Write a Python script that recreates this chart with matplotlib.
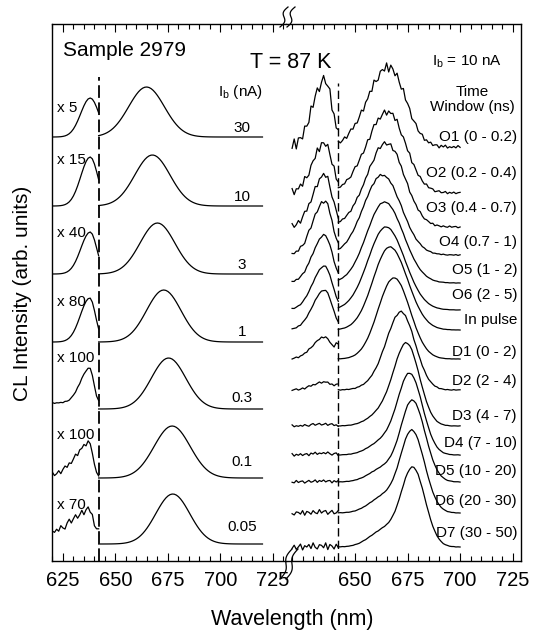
"""
CL spectra of sample 2979 at 87 K: beam-current series (left) and
time-resolved windows at Ib = 10 nA (right), two panels on one broken axis.
"""
import numpy as np
import matplotlib
matplotlib.use("Agg")
import matplotlib.pyplot as plt
from matplotlib.lines import Line2D
from matplotlib.ticker import FixedLocator, MultipleLocator

plt.rcParams["font.family"] = ["Liberation Sans", "DejaVu Sans"]
plt.rcParams["mathtext.fontset"] = "custom"
plt.rcParams["mathtext.rm"] = "Liberation Sans"
plt.rcParams["mathtext.it"] = "Liberation Sans:italic"

# ---- left panel: beam current series (peak parameters)
ib_labels = ["30", "10", "3", "1", "0.3", "0.1", "0.05"]
mult_labels = ["x 5", "x 15", "x 40", "x 80", "x 100", "x 100", "x 70"]
ib_offset = [424, 355, 287, 219, 152, 83, 17]
ib_peak_nm = [664.8, 667.6, 670.0, 673.0, 675.3, 677.0, 677.3]
ib_peak_width = [8.5, 8.4, 8.3, 8.2, 8.2, 8.6, 8.1]
ib_peak_height = [50, 51, 51, 52, 51, 52, 50]
# short-wavelength band, shown multiplied
ib_band_nm = [638.0, 638.0, 638.0, 637.8, 637.8, 638.0, 637.5]
ib_band_height = [39, 49, 42, 44, 35, 32, 23]
ib_band_wl = [4.5, 4.5, 4.5, 4.5, 4.5, 6.8, 7.5]
ib_band_wr = [4.1, 3.6, 3.1, 2.7, 1.8, 1.3, 1.9]
ib_band_base = [0, 0, 0, 0, 6, 3, 11]
ib_band_noise = [0, 0, 0, 0, 0.5, 2.5, 3.5]

# ---- right panel: time windows at Ib = 10 nA
tw_labels = ["O1 (0 - 0.2)", "O2 (0.2 - 0.4)", "O3 (0.4 - 0.7)", "O4 (0.7 - 1)",
             "O5 (1 - 2)", "O6 (2 - 5)", "In pulse", "D1 (0 - 2)", "D2 (2 - 4)",
             "D3 (4 - 7)", "D4 (7 - 10)", "D5 (10 - 20)", "D6 (20 - 30)",
             "D7 (30 - 50)"]
tw_offset = [414, 368, 334, 306, 278, 251, 231, 202, 171, 135, 106, 79, 48, 14]
tw_peak_nm = [666, 665.5, 665, 663, 664, 664.7, 666.7, 669, 672.4, 674.8,
              676.2, 677.4, 677.2, 677.6]
tw_width_l = [10, 10, 9.5, 9, 8.5, 8.5, 8, 7.5, 6.5, 6, 5.7, 5.5, 5.5, 5.5]
tw_width_r = [8, 8.5, 8.5, 9, 9, 9, 8.5, 7.5, 6.5, 6, 6, 6, 6, 5.8]
tw_peak_height = [80, 81, 84, 80, 81, 83, 83, 81, 78, 83, 82, 82, 83, 80]
tw_shoulder = [0, 0, 0, 0, 0, 0, 0.05, 0.1, 0.15, 0.15, 0.15, 0.15, 0.17, 0.18]
tw_band_nm = 635.5
tw_band_height = [67, 50, 52, 54, 48, 44, 40, 22, 8, 2, 2, 1, 1, 1]
tw_edge = [0, 0, 0, 0, 0, 0, 0, 12, 5, 0, 0, 0, 0, 0]
tw_noise_main = [5, 3.5, 2.5, 1.2, 0.5, 0.3, 0.3, 0.3, 1.0, 0.5, 0.5, 0.5, 0.5, 0.5]
tw_noise_band = [6, 4, 3, 2, 1, 0.5, 0.5, 0.8, 1, 1.2, 1.5, 1.5, 2.5, 3.5]

# jitter pattern of the noisy traces (unit amplitude), typed from the O1 trace
ripple = [0.3, -0.5, 0.8, -0.2, -0.9, 0.4, 1.0, -0.6, 0.1, 0.7, -0.8, -0.3,
          0.6, -1.0, 0.2, 0.9, -0.4, 0.5, -0.7, 0.0, 0.8, -0.9, 0.3, -0.1,
          0.6, -0.6, 1.0, -0.3, -0.8, 0.4, 0.2, -0.5, 0.9, -1.0, 0.5, 0.1,
          -0.7, 0.7, -0.2, -0.6, 1.0, -0.4, 0.3, 0.6, -0.9, 0.0, 0.8, -0.5,
          -0.1, 0.9, -0.8, 0.4, -0.3, 0.7, -0.6, 0.2, 0.5, -1.0, 0.6, -0.2,
          0.9, -0.7, 0.1, -0.4]

wl_band = np.arange(620, 642.01, 1.0)
wl_main_l = np.arange(642, 720.01, 1.0)
wl_main_r = np.arange(642, 700.01, 1.0)
cut_nm = 642


def band(wl, centre, sig_l, sig_r):
    sig = np.where(wl < centre, sig_l, sig_r)
    return np.exp(-0.5 * ((wl - centre) / sig) ** 2)


def texture(n, k):
    return np.resize(np.roll(np.array(ripple), 11 * k), n)


W, H = 534, 631
fig = plt.figure(figsize=(W / 100, H / 100), dpi=100)


def fx(px):
    return np.asarray(px) / W


def fy(py):
    return 1 - np.asarray(py) / H


ax_l = fig.add_axes([fx(52), fy(561), (286 - 52) / W, (561 - 24) / H])
ax_r = fig.add_axes([fx(286), fy(561), (521 - 286) / W, (561 - 24) / H])
ax_l.set_xlim(619.8, 731.2)
ax_r.set_xlim(617.1, 729.0)

lw = 0.9
for i in range(len(ib_labels)):
    y0 = ib_offset[i]
    b = ib_band_height[i] * band(wl_band, ib_band_nm[i], ib_band_wl[i], ib_band_wr[i])
    b = b + ib_band_base[i] + ib_band_noise[i] * texture(len(wl_band), i)
    ax_l.plot(wl_band, y0 + b, color="black", lw=lw)
    m = ib_peak_height[i] * band(wl_main_l, ib_peak_nm[i], ib_peak_width[i], ib_peak_width[i])
    ax_l.plot(wl_main_l, y0 + m, color="black", lw=lw)

for i in range(len(tw_labels)):
    y0 = tw_offset[i]
    b = tw_band_height[i] * band(wl_band, tw_band_nm, 5.7, 3.6)
    b = b + tw_edge[i] * band(wl_band, 641.5, 0.8, 0.8)
    b = b + tw_noise_band[i] * texture(len(wl_band), i + 3)
    ax_r.plot(wl_band, y0 + b, color="black", lw=lw)
    sh = tw_shoulder[i]
    shape = (1 - sh) * band(wl_main_r, tw_peak_nm[i], tw_width_l[i], tw_width_r[i]) \
        + sh * band(wl_main_r, 664, 7, 7)
    shape = shape / shape.max()
    m = tw_peak_height[i] * shape
    m = m + tw_noise_main[i] * texture(len(wl_main_r), i + 5) * (0.35 + 0.65 * shape)
    ax_r.plot(wl_main_r, y0 + m, color="black", lw=lw)

# filter cut
ax_l.plot([642.3, 642.3], [0, 484], color="black", lw=1.3, dashes=(7, 2.5))
ax_r.plot([641.9, 641.9], [0, 478], color="black", lw=1.0, dashes=(6, 3))

for ax in (ax_l, ax_r):
    ax.set_ylim(0, 537)
    ax.set_yticks([])
    ax.xaxis.set_minor_locator(MultipleLocator(5))
    ax.tick_params(which="both", direction="in", top=True, bottom=True,
                   labelsize=14.5, pad=7, width=0.8)
    ax.tick_params(which="major", length=6)
    ax.tick_params(which="minor", length=3.5)
    for s in ax.spines.values():
        s.set_linewidth(1.0)
ax_l.xaxis.set_major_locator(FixedLocator([625, 650, 675, 700, 725]))
ax_r.xaxis.set_major_locator(FixedLocator([650, 675, 700, 725]))
ax_l.spines["right"].set_visible(False)
ax_r.spines["left"].set_visible(False)


# axis break marks
def squiggle(x_top, y_top, x_bot, y_bot):
    t = np.linspace(0, 1, 40)
    xs = x_bot + (x_top - x_bot) * t + 2.5 * np.sin(2 * np.pi * t)
    ys = y_bot + (y_top - y_bot) * t
    fig.add_artist(Line2D(fx(xs), fy(ys), color="black", lw=0.9))


squiggle(288, 7, 280, 27)
squiggle(295, 7, 287, 27)
squiggle(292, 549, 280, 579)
squiggle(298, 549, 286, 579)

# texts
ib_label_y = [128, 197, 265, 332, 398, 462, 527]
mult_label_y = [108, 160, 233, 302, 358, 435, 505]
tw_label_y = [137, 173, 208, 242, 270, 295, 320, 352, 381, 416, 443, 471, 501, 533]
small = 11

for lab, py in zip(ib_labels, ib_label_y):
    fig.text(fx(242), fy(py), lab, ha="center", va="center", fontsize=small)
for lab, py in zip(mult_labels, mult_label_y):
    fig.text(fx(57), fy(py), lab, ha="left", va="center", fontsize=small)
for lab, py in zip(tw_labels, tw_label_y):
    fig.text(fx(517), fy(py), lab, ha="right", va="center", fontsize=small)

fig.text(fx(63), fy(50), "Sample 2979", ha="left", va="center", fontsize=15)
fig.text(fx(291), fy(62), "T = 87 K", ha="center", va="center", fontsize=15.5)
fig.text(fx(467), fy(62), r"I$_\mathrm{b}$ = 10 nA", ha="center", va="center", fontsize=small)
fig.text(fx(240), fy(92), r"I$_\mathrm{b}$ (nA)", ha="center", va="center", fontsize=small)
fig.text(fx(472), fy(92), "Time", ha="center", va="center", fontsize=small)
fig.text(fx(472), fy(107), "Window (ns)", ha="center", va="center", fontsize=small)
fig.text(fx(292), fy(620), "Wavelength (nm)", ha="center", va="center", fontsize=15.5)
fig.text(fx(23), fy(293), "CL Intensity (arb. units)", ha="center", va="center",
         rotation=90, fontsize=15)

fig.savefig("out.png", dpi=100)
